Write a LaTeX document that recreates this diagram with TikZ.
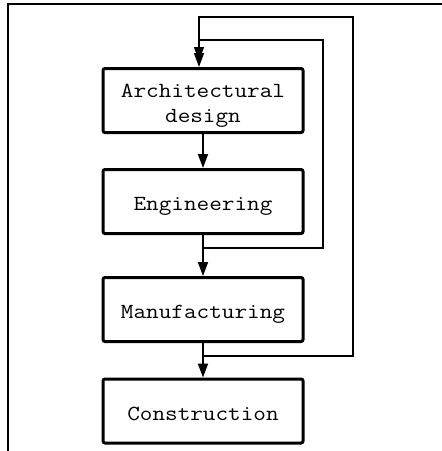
\documentclass[tikz,border=0pt]{standalone}
\usepackage{fontspec}
\setmonofont[FakeStretch=1.14]{Latin Modern Mono}
\usetikzlibrary{arrows.meta}
\newcommand{\stagetext}[1]{\raisebox{-4pt}[\height][\depth]{\begin{tabular}{@{}c@{}}#1\end{tabular}}}
\begin{document}
\begin{tikzpicture}[x=1pt,y=-1pt,
  stage/.style={draw,line width=3pt,rounded corners=2pt,minimum width=200pt,minimum height=64pt,
    font=\ttfamily\fontsize{21.5}{25}\selectfont,inner sep=0pt},
  flow/.style={line width=1.8pt,-{Triangle[length=14pt,width=10pt]}},
  fb/.style={line width=1.5pt,-{Triangle[length=14pt,width=10pt]}},
  frame/.style={line width=2pt}]
\useasboundingbox (0,0) rectangle (442,451);
\draw[frame] (8,451) -- (8,3.5) -- (442,3.5);
\node[stage] (a) at (203,100.5) {\stagetext{Architectural\\design}};
\node[stage] (e) at (203,201.5) {\stagetext{Engineering}};
\node[stage] (m) at (203,309.5) {\stagetext{Manufacturing}};
\node[stage] (c) at (203,411) {\stagetext{Construction}};
\draw[flow] (a) -- (e);
\draw[flow] (e) -- (m);
\draw[flow] (m) -- (c);
\coordinate (i1) at (203,248);
\coordinate (i2) at (323,40);
\coordinate (it) at (199,40);
\coordinate (o1) at (203,356);
\coordinate (o2) at (353,17);
\coordinate (ot) at (199,17);
\draw[fb,shorten >=6pt] (i1) -| (i2) -- (it) -- (it |- a.north);
\draw[fb] (o1) -| (o2) -- (ot) -- (ot |- a.north);
\end{tikzpicture}
\end{document}
